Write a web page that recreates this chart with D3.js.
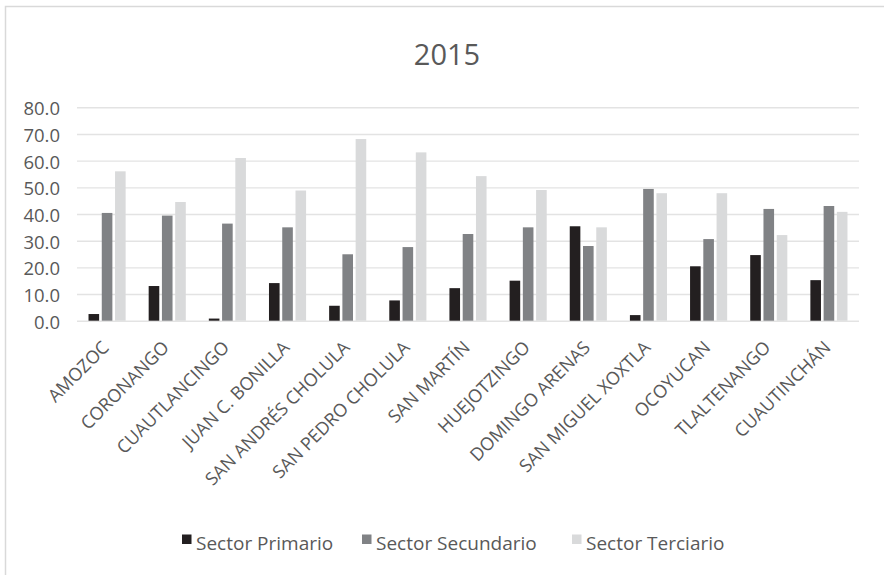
<!DOCTYPE html>
<html>
<head>
<meta charset="utf-8">
<script src="https://cdn.jsdelivr.net/npm/d3@7/dist/d3.min.js"></script>
<style>
  html, body { margin: 0; padding: 0; background: #fff; }
  svg { display: block; font-family: "Open Sans", sans-serif; }
</style>
</head>
<body>
<svg id="chart" width="884" height="575"></svg>
<script>
// Municipios
const categories = [
  "AMOZOC", "CORONANGO", "CUAUTLANCINGO", "JUAN C. BONILLA",
  "SAN ANDRÉS CHOLULA", "SAN PEDRO CHOLULA", "SAN MARTÍN", "HUEJOTZINGO",
  "DOMINGO ARENAS", "SAN MIGUEL XOXTLA", "OCOYUCAN", "TLALTENANGO", "CUAUTINCHÁN"
];

// Porcentaje de población ocupada por sector, 2015
const sectorPrimario   = [2.5, 13.0, 0.8, 14.1, 5.6, 7.6, 12.2, 15.0, 35.4, 2.1, 20.4, 24.6, 15.2];
const sectorSecundario = [40.4, 39.4, 36.4, 35.0, 24.9, 27.6, 32.5, 35.0, 28.0, 49.4, 30.6, 41.9, 43.0];
const sectorTerciario  = [56.0, 44.5, 61.0, 48.8, 68.1, 63.1, 54.2, 49.0, 35.0, 47.8, 47.8, 32.1, 40.8];

const seriesNames = ["Sector Primario", "Sector Secundario", "Sector Terciario"];
const seriesColors = ["#231f20", "#808285", "#d9dadb"];
const yTicks = [0, 10, 20, 30, 40, 50, 60, 70, 80];
const title = "2015";

const seriesValues = [sectorPrimario, sectorSecundario, sectorTerciario];

const svg = d3.select("#chart");
const textColor = "#595959";
const fontFamily = '"Open Sans", sans-serif';

// Chart frame
svg.append("rect")
  .attr("x", 5.5).attr("y", 6.5)
  .attr("width", 1000).attr("height", 1000)
  .attr("fill", "none")
  .attr("stroke", "#d9d9d9")
  .attr("stroke-width", 1.5);

// Title
svg.append("text")
  .attr("x", 447).attr("y", 65)
  .attr("text-anchor", "middle")
  .attr("fill", textColor)
  .style("font-size", "29px")
  .text(title);

const plot = { left: 77, right: 859, top: 107.3, bottom: 320.7 };

const x0 = d3.scaleBand()
  .domain(categories)
  .range([plot.left, plot.right])
  .paddingInner(0.383)
  .paddingOuter(0.1915);

const x1 = d3.scaleBand()
  .domain(seriesNames)
  .range([0, x0.bandwidth()])
  .paddingInner(0.2)
  .paddingOuter(0);

const y = d3.scaleLinear()
  .domain([0, 80])
  .range([plot.bottom, plot.top]);

// Gridlines and value labels
const yAxis = d3.axisLeft(y)
  .tickValues(yTicks)
  .tickFormat(d3.format(".1f"))
  .tickSize(-(plot.right - plot.left))
  .tickPadding(17);

const gy = svg.append("g")
  .attr("transform", `translate(${plot.left},0)`)
  .call(yAxis)
  .attr("font-family", fontFamily)
  .attr("font-size", null);
gy.select(".domain").remove();
gy.selectAll(".tick line")
  .attr("stroke", "#e3e3e3")
  .attr("stroke-width", 1.4);
gy.selectAll(".tick text")
  .attr("fill", textColor)
  .attr("dy", "0.4em")
  .style("font-size", "18.5px");

// Bars
const groups = svg.append("g")
  .selectAll("g")
  .data(categories)
  .join("g")
  .attr("transform", d => `translate(${x0(d)},0)`);

groups.selectAll("rect")
  .data((d, i) => seriesNames.map((s, k) => ({ s, k, v: seriesValues[k][i] })))
  .join("rect")
  .attr("x", d => x1(d.s))
  .attr("y", d => y(d.v))
  .attr("width", x1.bandwidth())
  .attr("height", d => y(0) - y(d.v))
  .attr("fill", d => seriesColors[d.k]);

// Category labels
const xAxis = d3.axisBottom(x0).tickSize(0).tickPadding(0);
const gx = svg.append("g")
  .attr("transform", `translate(0,${plot.bottom})`)
  .call(xAxis)
  .attr("font-family", fontFamily)
  .attr("font-size", null);
gx.select(".domain").remove();
gx.selectAll(".tick text")
  .attr("fill", textColor)
  .style("font-size", "18px")
  .attr("text-anchor", "end")
  .attr("dy", 0)
  .attr("transform", "translate(3,28) rotate(-45)");

// Legend
const legendX = [182, 362, 572];
const legend = svg.append("g")
  .selectAll("g")
  .data(seriesNames)
  .join("g")
  .attr("transform", (d, i) => `translate(${legendX[i]},0)`);
legend.append("rect")
  .attr("x", 0).attr("y", 534.5)
  .attr("width", 9.5).attr("height", 9.5)
  .attr("fill", (d, i) => seriesColors[i]);
legend.append("text")
  .attr("x", 14).attr("y", 550)
  .attr("fill", textColor)
  .style("font-size", "19px")
  .text(d => d);
</script>
</body>
</html>
